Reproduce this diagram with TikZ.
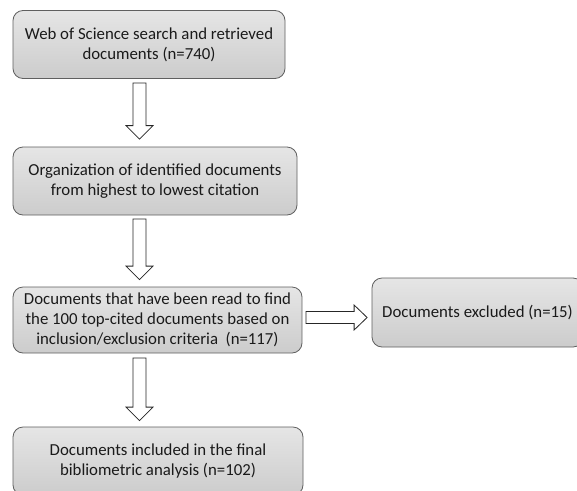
\documentclass[tikz,border=0pt]{standalone}
\usepackage{fontspec}
\setmainfont{Carlito}
\usetikzlibrary{calc,positioning}

\definecolor{boxline}{HTML}{5F5F5F}
\definecolor{boxtext}{HTML}{1A1A1A}

% hollow block arrows between two named coordinates
\newcommand{\downblock}[2]{%
  \draw[hollow] ($(#1)+(-6.5,0)$) -- ($(#1)+(6.5,0)$) -- ($(#2)+(6.5,-13.5)$) -- ($(#2)+(13.5,-13.5)$)
    -- (#2) -- ($(#2)+(-13.5,-13.5)$) -- ($(#2)+(-6.5,-13.5)$) -- cycle;}
\newcommand{\rightblock}[2]{%
  \draw[hollow] ($(#1)+(0,-6)$) -- ($(#2)+(-13,-6)$) -- ($(#2)+(-13,-12.5)$)
    -- (#2) -- ($(#2)+(-13,12.5)$) -- ($(#2)+(-13,6)$) -- ($(#1)+(0,6)$) -- cycle;}

\begin{document}
\begin{tikzpicture}[x=1pt, y=-1pt,
    every node/.style={font=\fontsize{16.8}{20}\selectfont, text=boxtext},
    box/.style={draw=boxline, line width=0.8pt, rounded corners=10pt,
        top color=gray!20, bottom color=gray!40, align=center, minimum height=68pt},
    hollow/.style={draw=black!85, fill=white, line width=0.8pt, line join=miter}]
    % Page
    \clip (0,0) rectangle (577,490);
    \fill[white] (0,0) rectangle (577,490);
    % Boxes
    \node[box, minimum width=272pt] (search) at (149,44.5)
        {Web of Science search and retrieved\\documents (n=740)};
    \node[box, minimum width=284pt] (order) at (155,181)
        {Organization of identified documents\\from highest to lowest citation};
    \node[box, minimum width=289pt, minimum height=66pt] (read) at (157.5,320)
        {Documents that have been read to find\\the 100 top-cited documents based on\\inclusion/exclusion criteria\ \ (n=117)};
    \node[box, minimum width=290pt] (incl) at (158,461)
        {Documents included in the final\\bibliometric analysis (n=102)};
    \node[box, minimum width=211pt, minimum height=69pt] (excl) at (477.5,312.5)
        {Documents excluded (n=15)};
    % Arrows
    \coordinate (ax) at (139.5,0);
    \coordinate (a1s) at ($(search.south -| ax)+(0,4)$);
    \coordinate (a1e) at ($(order.north -| ax)+(0,-7.5)$);
    \coordinate (a2s) at ($(order.south -| ax)+(0,3.5)$);
    \coordinate (a2e) at ($(read.north -| ax)+(0,-7)$);
    \coordinate (a3s) at ($(read.south -| ax)+(0,4.5)$);
    \coordinate (a3e) at ($(incl.north -| ax)+(0,-6)$);
    \coordinate (a4s) at ($(read.east)+(3.5,-2.5)$);
    \coordinate (a4e) at ($(excl.west)+(-4.5,5)$);
    \downblock{a1s}{a1e}
    \downblock{a2s}{a2e}
    \downblock{a3s}{a3e}
    \rightblock{a4s}{a4e}
\end{tikzpicture}
\end{document}
